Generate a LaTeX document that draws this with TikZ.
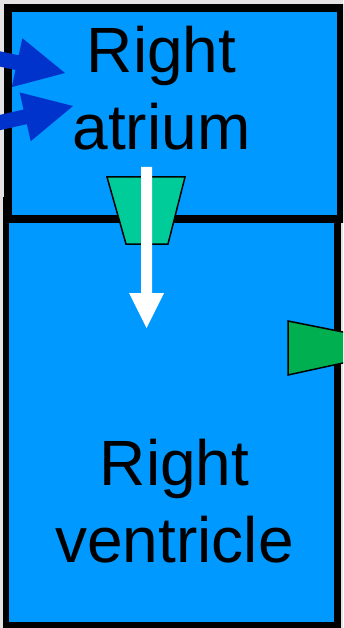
\documentclass[tikz,border=0pt]{standalone}
\usepackage{fontspec}
\setmainfont{Liberation Sans}
\usetikzlibrary{calc}
\definecolor{chamber}{HTML}{0099FF}
\definecolor{veinblue}{HTML}{0033CC}
\definecolor{tricusp}{HTML}{00CC99}
\definecolor{pulmvalve}{HTML}{00B050}
\definecolor{bgray}{HTML}{E4E2E2}
\tikzset{
  chamberbox/.style={draw=black, fill=chamber, rectangle, inner sep=0pt, outer sep=0pt},
  lbl/.style={align=center, inner sep=0pt, text=black, font=\fontsize{64}{77}\selectfont},
  valve/.style={draw=black, line width=1.5pt, line join=miter},
}
% block arrow: #1 tail, #2 tip, #3 shaft half width, #4 head half width, #5 head length, #6 colour
\newcommand{\blockarrow}[6]{%
  \coordinate (ba-c) at ($(#2)!#5!(#1)$);
  \fill[#6] ($(#1)!#3!90:(#2)$) -- ($(ba-c)!#3!90:(#2)$) -- ($(ba-c)!#4!90:(#2)$) -- (#2)
    -- ($(ba-c)!#4!-90:(#2)$) -- ($(ba-c)!#3!-90:(#2)$) -- ($(#1)!#3!-90:(#2)$) -- cycle;
}
\begin{document}
\begin{tikzpicture}[x=1pt, y=-1pt]
\useasboundingbox (0,0) rectangle (343,628);
\clip (0,0) rectangle (343,628);
\fill[bgray] (0,0) rectangle (343,628);
% chambers
\node[chamberbox, line width=6.5pt, minimum width=331.5pt, minimum height=425pt] (rv) at (171.75,412.5) {};
\node[chamberbox, line width=8pt, minimum width=333pt, minimum height=211pt] (ra) at (174.5,113.5) {};
% labels
\node[lbl, anchor=base] (ralabel) at (161.5,150) {Right\\atrium};
\node[lbl, anchor=base] (rvlabel) at (174.5,562) {Right\\ventricle};
% tricuspid valve
\coordinate (tv1) at (107,177);
\coordinate (tv2) at (185,177);
\coordinate (tv3) at (168,244);
\coordinate (tv4) at (126,244);
\draw[valve, fill=tricusp] (tv1) -- (tv2) -- (tv3) -- (tv4) -- cycle;
% pulmonary valve
\coordinate (pv1) at (288,321);
\coordinate (pv2) at (360,335.4);
\coordinate (pv3) at (360,359.3);
\coordinate (pv4) at (288,375);
\draw[valve, fill=pulmvalve] (pv1) -- (pv2) -- (pv3) -- (pv4) -- cycle;
% venae cavae inflow arrows
\coordinate (svctail) at (-10,56.8);
\coordinate (svctip) at (65,73);
\coordinate (ivctail) at (-10,124.8);
\coordinate (ivctip) at (73,106);
\blockarrow{svctail}{svctip}{7.5pt}{25pt}{49pt}{veinblue}
\blockarrow{ivctail}{ivctip}{7.5pt}{25pt}{49pt}{veinblue}
% flow arrow through tricuspid
\coordinate (flowtail) at (146.5,167);
\coordinate (flowtip) at (146.5,328);
\blockarrow{flowtail}{flowtip}{5.5pt}{17.5pt}{35pt}{white}
\end{tikzpicture}
\end{document}
